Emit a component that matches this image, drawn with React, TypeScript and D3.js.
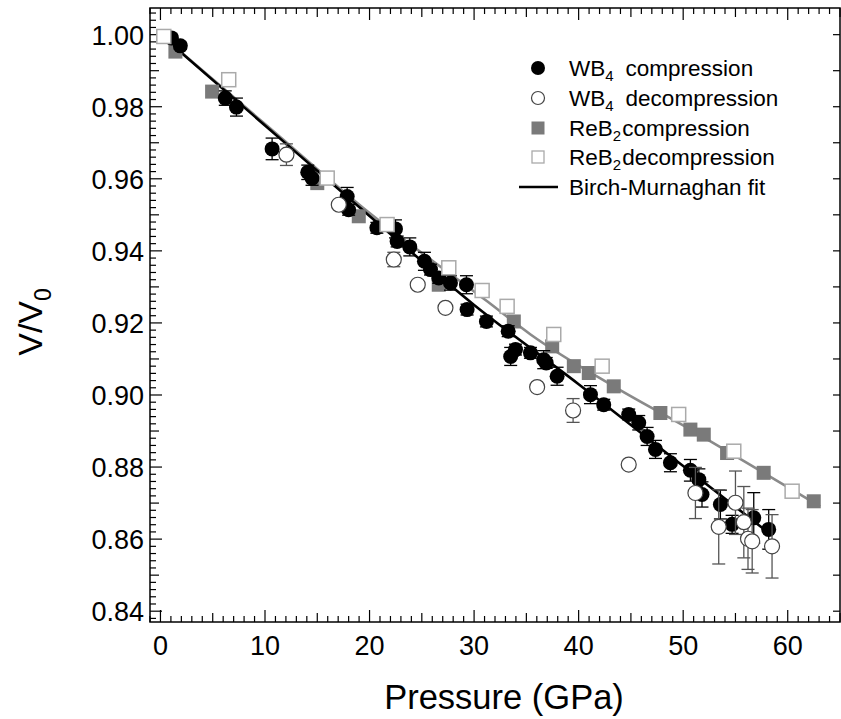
import React from "react";
import * as d3 from "d3";

// ---- data ----
// [pressure GPa, V/V0, error]
const wb4Compression: [number, number, number][] = [
  [1.05, 0.9991, 0.001], [1.9, 0.9969, 0.001], [6.2, 0.9824, 0.002], [7.27, 0.9799, 0.0025],
  [10.68, 0.9683, 0.003], [14.09, 0.9618, 0.002], [14.5, 0.9602, 0.002], [17.86, 0.9551, 0.0025],
  [18.0, 0.9514, 0.0015], [20.7, 0.9464, 0.0015], [22.48, 0.9461, 0.0025], [22.64, 0.9426, 0.0015],
  [23.85, 0.9411, 0.0025], [25.25, 0.9371, 0.0025], [25.83, 0.9348, 0.0015], [26.62, 0.9325, 0.0015],
  [27.74, 0.9311, 0.002], [29.27, 0.9306, 0.0025], [29.33, 0.9237, 0.0015], [31.18, 0.9204, 0.0015],
  [33.26, 0.9177, 0.0015], [33.5, 0.9107, 0.0025], [33.96, 0.9126, 0.0015], [35.39, 0.9117, 0.0015],
  [36.66, 0.9098, 0.0025], [36.9, 0.9089, 0.0015], [37.94, 0.9052, 0.0025], [41.13, 0.9001, 0.0025],
  [42.4, 0.8973, 0.0015], [44.79, 0.8946, 0.0015], [45.75, 0.8923, 0.002], [46.55, 0.8885, 0.0025],
  [47.35, 0.8849, 0.0025], [48.78, 0.8812, 0.0025], [50.69, 0.8791, 0.003], [51.5, 0.8765, 0.003],
  [51.8, 0.8724, 0.0035], [53.56, 0.8696, 0.004], [54.68, 0.8641, 0.0025], [56.75, 0.8659, 0.007],
  [58.18, 0.8627, 0.0055],
];

const wb4Decompression: [number, number, number][] = [
  [12.05, 0.9667, 0.003], [17.06, 0.9528, 0.001], [22.32, 0.9376, 0.002], [24.61, 0.9306, 0.001],
  [27.26, 0.9242, 0.001], [36.03, 0.9022, 0.001], [39.47, 0.8957, 0.0033], [44.79, 0.8807, 0.001],
  [51.17, 0.8728, 0.0071], [53.4, 0.8634, 0.0103], [55.0, 0.8701, 0.0088], [55.8, 0.8647, 0.0099],
  [56.2, 0.8601, 0.0085], [56.6, 0.8594, 0.0088], [58.5, 0.858, 0.0088],
];

const reb2Compression: [number, number][] = [
  [1.43, 0.9953], [4.94, 0.9842], [15.0, 0.9588], [18.97, 0.9496], [26.62, 0.9306],
  [33.8, 0.9204], [37.47, 0.9135], [39.54, 0.908], [40.97, 0.9061], [43.36, 0.9024],
  [47.82, 0.895], [50.69, 0.8904], [51.97, 0.889], [54.2, 0.8839], [57.7, 0.8784], [62.49, 0.8705],
];

const reb2Decompression: [number, number][] = [
  [0.32, 0.9995], [6.53, 0.9875], [15.95, 0.9602], [21.68, 0.9473], [27.58, 0.9353],
  [30.77, 0.929], [33.16, 0.9246], [37.62, 0.9168], [42.25, 0.908], [49.57, 0.8946],
  [54.84, 0.8844], [60.42, 0.8733],
];

// Birch-Murnaghan fit curves
const wb4Fit: [number, number][] = [
  [0, 1.0], [10, 0.9748], [20, 0.9497], [30, 0.925], [40, 0.903], [50, 0.8803], [58.2, 0.8617],
];
const reb2Fit: [number, number][] = [
  [0, 1.0], [10, 0.9752], [20, 0.9505], [31.25, 0.926], [35.4, 0.9168], [43.36, 0.9024],
  [50.69, 0.8904], [57.7, 0.8784], [63.1, 0.8691],
];

const xTickLabels = [0, 10, 20, 30, 40, 50, 60];
const yTickLabels = [0.84, 0.86, 0.88, 0.9, 0.92, 0.94, 0.96, 0.98, 1.0];

const W = 841;
const H = 719;
const L = 150, R = 840, T = 8, B = 622;
const FONT = "'Liberation Sans', Arial, Helvetica, sans-serif";

export default function App() {
  const x = d3.scaleLinear().domain([-1, 65]).range([L, R]);
  const y = d3.scaleLinear().domain([0.837, 1.0074]).range([B, T]);

  const line = d3
    .line<[number, number]>()
    .x((d) => x(d[0]))
    .y((d) => y(d[1]))
    .curve(d3.curveMonotoneX);

  const xMinor = d3.range(-1, 66, 1);
  const yMinor = d3.range(0, 86).map((i) => +(0.838 + i * 0.002).toFixed(3)).filter((v) => v <= 1.007);

  const r = 7.5;
  const sq = 14;
  const cap = 6.5;

  const errBar = (d: [number, number, number], i: number, color: string) => {
    if (!d[2]) return null;
    const cx = x(d[0]);
    const y1 = y(d[1] + d[2]);
    const y2 = y(d[1] - d[2]);
    return (
      <g key={i} stroke={color} strokeWidth={1.3}>
        <line x1={cx} x2={cx} y1={y1} y2={y2} />
        <line x1={cx - cap} x2={cx + cap} y1={y1} y2={y1} />
        <line x1={cx - cap} x2={cx + cap} y1={y2} y2={y2} />
      </g>
    );
  };

  const legendX = 538;
  const textX = 569;
  const rows = [68, 98, 128, 157, 187];
  const LF = 22.5;
  const SF = 15;

  return (
    <svg
      width={W}
      height={H}
      style={{ position: "absolute", left: 0, top: 0, background: "#fff", fontFamily: FONT }}
    >
      <rect x={0} y={0} width={W} height={H} fill="#fff" />

      {/* ticks bottom & top */}
      <g stroke="#000" strokeWidth={1.2}>
        {xMinor.map((v) => {
          const len = v % 10 === 0 ? 12 : v % 5 === 0 ? 9 : 6;
          return (
            <g key={"xt" + v}>
              <line x1={x(v)} x2={x(v)} y1={B} y2={B - len} />
              <line x1={x(v)} x2={x(v)} y1={T} y2={T + len} />
            </g>
          );
        })}
        {yMinor.map((v) => {
          const k = Math.round(v * 1000);
          const len = k % 20 === 0 ? 12 : k % 10 === 0 ? 9 : 6;
          return (
            <g key={"yt" + k}>
              <line x1={L} x2={L + len} y1={y(v)} y2={y(v)} />
              {k % 10 === 0 && <line x1={R} x2={R - 7} y1={y(v)} y2={y(v)} />}
            </g>
          );
        })}
      </g>

      {/* frame */}
      <rect x={L} y={T} width={R - L} height={B - T} fill="none" stroke="#000" strokeWidth={1.5} />

      {/* tick labels */}
      <g fontSize={27} fill="#000">
        {xTickLabels.map((v) => (
          <text key={"xl" + v} x={x(v)} y={655} textAnchor="middle">
            {v}
          </text>
        ))}
        {yTickLabels.map((v) => (
          <text key={"yl" + v} x={144} y={y(v) + 10} textAnchor="end">
            {v.toFixed(2)}
          </text>
        ))}
      </g>

      {/* axis titles */}
      <text x={504} y={709} fontSize={34.5} textAnchor="middle">
        Pressure (GPa)
      </text>
      <text transform="translate(42,322) rotate(-90)" fontSize={34} textAnchor="middle">
        V/V
        <tspan fontSize={23} dy={9}>0</tspan>
      </text>

      {/* fit lines */}
      <path d={line(reb2Fit) || ""} fill="none" stroke="#8a8a8a" strokeWidth={2.6} />
      <path d={line(wb4Fit) || ""} fill="none" stroke="#000" strokeWidth={2.6} />

      {/* ReB2 compression */}
      <g fill="#7a7a7a">
        {reb2Compression.map((d, i) => (
          <rect key={i} x={x(d[0]) - sq / 2} y={y(d[1]) - sq / 2} width={sq} height={sq} />
        ))}
      </g>

      {/* WB4 compression */}
      <g>{wb4Compression.map((d, i) => errBar(d, i, "#000"))}</g>
      <g fill="#000">
        {wb4Compression.map((d, i) => (
          <circle key={i} cx={x(d[0])} cy={y(d[1])} r={r} />
        ))}
      </g>

      {/* ReB2 decompression */}
      <g fill="#fff" stroke="#aaa" strokeWidth={1.5}>
        {reb2Decompression.map((d, i) => (
          <rect key={i} x={x(d[0]) - sq / 2} y={y(d[1]) - sq / 2} width={sq} height={sq} />
        ))}
      </g>

      {/* WB4 decompression */}
      <g>{wb4Decompression.map((d, i) => errBar(d, i, "#555"))}</g>
      <g fill="#fff" stroke="#444" strokeWidth={1.2}>
        {wb4Decompression.map((d, i) => (
          <circle key={i} cx={x(d[0])} cy={y(d[1])} r={r} />
        ))}
      </g>

      {/* legend */}
      <g fontSize={LF} fill="#000">
        <circle cx={legendX} cy={rows[0]} r={7} fill="#000" />
        <text x={textX} y={rows[0] + 8}>
          WB<tspan fontSize={SF} dy={5}>4</tspan>
          <tspan dy={-5} dx={12}>compression</tspan>
        </text>

        <circle cx={legendX} cy={rows[1]} r={6.5} fill="#fff" stroke="#444" strokeWidth={1.2} />
        <text x={textX} y={rows[1] + 8}>
          WB<tspan fontSize={SF} dy={5}>4</tspan>
          <tspan dy={-5} dx={12}>decompression</tspan>
        </text>

        <rect x={legendX - 6.5} y={rows[2] - 6.5} width={13} height={13} fill="#7a7a7a" />
        <text x={textX} y={rows[2] + 8}>
          ReB<tspan fontSize={SF} dy={5}>2</tspan>
          <tspan dy={-5} dx={1}>compression</tspan>
        </text>

        <rect x={legendX - 6} y={rows[3] - 6} width={12} height={12} fill="#fff" stroke="#aaa" strokeWidth={1.3} />
        <text x={textX} y={rows[3] + 8}>
          ReB<tspan fontSize={SF} dy={5}>2</tspan>
          <tspan dy={-5} dx={1}>decompression</tspan>
        </text>

        <line x1={519} x2={558} y1={rows[4]} y2={rows[4]} stroke="#000" strokeWidth={2.6} />
        <text x={textX} y={rows[4] + 8}>Birch-Murnaghan fit</text>
      </g>
    </svg>
  );
}
